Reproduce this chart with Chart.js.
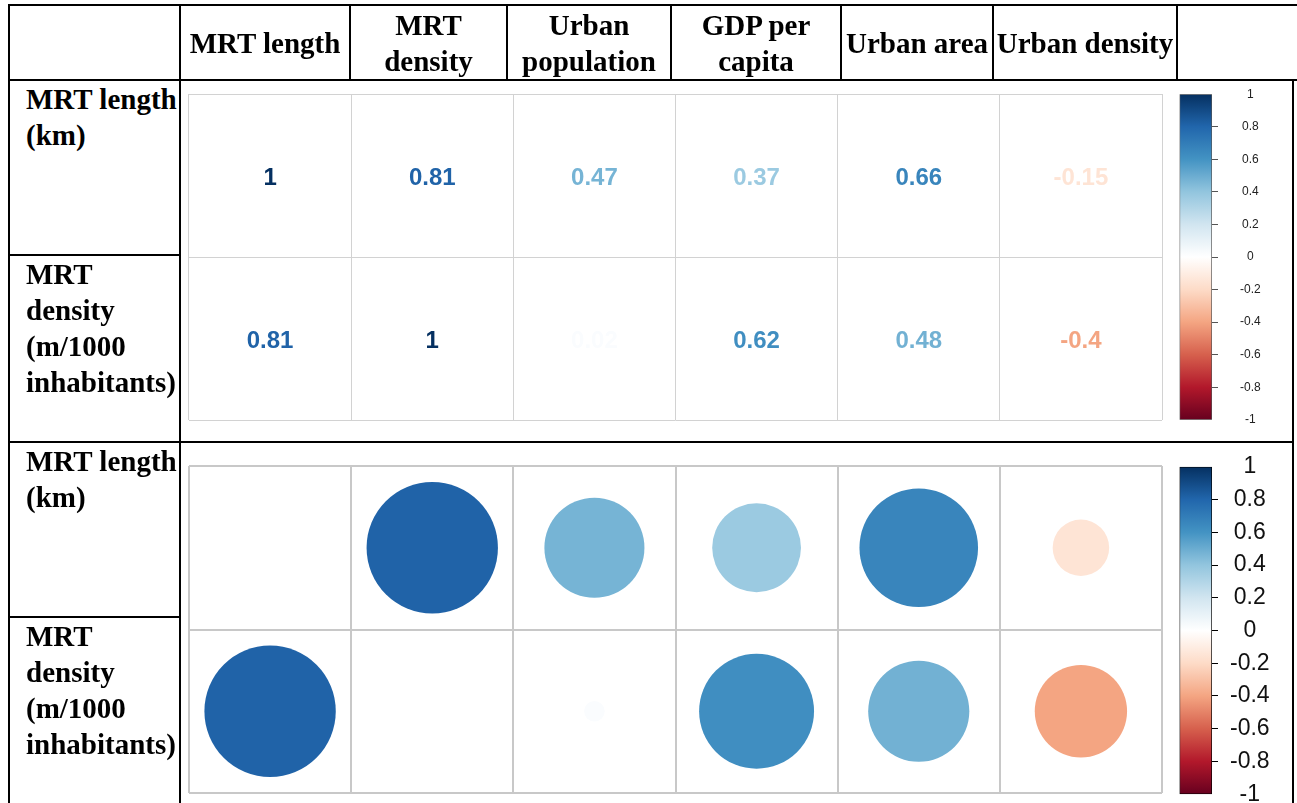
<!DOCTYPE html>
<html>
<head>
<meta charset="utf-8">
<script src="https://cdn.jsdelivr.net/npm/chart.js@4.4.0/dist/chart.umd.min.js"></script>
<style>
  html, body { margin: 0; padding: 0; background: #fff; overflow: hidden; }
  #page { position: relative; width: 1297px; height: 803px; overflow: hidden; }
  .ln { position: absolute; background: #000; }
  .hd {
    position: absolute; top: 6px; height: 74px;
    display: flex; align-items: center; justify-content: center; text-align: center;
    font: bold 29px/36px "Liberation Serif", "Times New Roman", serif;
    white-space: pre; color: #000;
  }
  .rl {
    position: absolute; left: 26px;
    font: bold 29px/36px "Liberation Serif", "Times New Roman", serif;
    white-space: pre; color: #000;
  }
  canvas { position: absolute; }
</style>
</head>
<body>
<div id="page">
  <canvas id="numPanel" width="981" height="334" style="left:185px;top:90px"></canvas>
  <canvas id="numBar" width="117" height="384" style="left:1175px;top:64.8px"></canvas>
  <canvas id="circlePanel" width="981" height="335" style="left:185px;top:462px"></canvas>
  <canvas id="circleBar" width="117" height="379" style="left:1175px;top:441.2px"></canvas>
</div>
<script>
// variables in the columns and rows of the correlation matrix
var colVars = ["MRT length", "MRT density", "Urban population", "GDP per capita", "Urban area", "Urban density"];
var rowVars = ["MRT length (km)", "MRT density (m/1000 inhabitants)"];

// correlation coefficients
var mrtLengthR = [1, 0.81, 0.47, 0.37, 0.66, -0.15];
var mrtDensityR = [0.81, 1, 0.02, 0.62, 0.48, -0.4];

// colour bar ticks
var legendTicks = [-1, -0.8, -0.6, -0.4, -0.2, 0, 0.2, 0.4, 0.6, 0.8, 1];

// how the labels are broken in the table
var headerText = ["MRT length", "MRT\ndensity", "Urban\npopulation", "GDP per\ncapita", "Urban area", "Urban density"];
var rowText = ["MRT length\n(km)", "MRT\ndensity\n(m/1000\ninhabitants)"];

// RdBu palette, from -1 to 1
var rdbu = ["#67001F", "#B2182B", "#D6604D", "#F4A582", "#FDDBC7", "#FFFFFF",
            "#D1E5F0", "#92C5DE", "#4393C3", "#2166AC", "#053061"];

function hexRgb(h) {
  return [parseInt(h.substr(1, 2), 16), parseInt(h.substr(3, 2), 16), parseInt(h.substr(5, 2), 16)];
}

function corrColor(v) {
  var t = (v + 1) / 2 * (rdbu.length - 1);
  var i = Math.min(Math.floor(t), rdbu.length - 2);
  var f = t - i;
  var a = hexRgb(rdbu[i]), b = hexRgb(rdbu[i + 1]);
  var c = a.map(function (x, k) { return Math.round(x + (b[k] - x) * f); });
  return "rgb(" + c.join(",") + ")";
}

// ---- table frame and labels ----
var page = document.getElementById("page");

function line(x, y, w, h) {
  var d = document.createElement("div");
  d.className = "ln";
  d.style.left = x + "px"; d.style.top = y + "px";
  d.style.width = w + "px"; d.style.height = h + "px";
  page.appendChild(d);
}

line(8, 4, 1289, 2);
line(8, 79, 1289, 2);
line(8, 4, 2, 799);
line(179, 4, 2, 799);
[349, 506, 670, 840, 992, 1176].forEach(function (x) { line(x, 4, 2, 77); });
line(1292, 80, 2, 723);
line(8, 254, 172, 2);
line(8, 441, 1286, 2);
line(8, 616, 172, 2);

var headerEdges = [180, 350, 507, 671, 841, 993, 1177];
headerText.forEach(function (t, i) {
  var d = document.createElement("div");
  d.className = "hd";
  d.style.left = headerEdges[i] + "px";
  d.style.width = (headerEdges[i + 1] - headerEdges[i]) + "px";
  d.textContent = t;
  page.appendChild(d);
});

var rowTops = [81, 256, 443, 618];
rowTops.forEach(function (y, i) {
  var d = document.createElement("div");
  d.className = "rl";
  d.style.top = y + "px";
  d.textContent = rowText[i % 2];
  page.appendChild(d);
});

// ---- correlation panels ----
function matrixPoints(skipDiag) {
  var pts = [];
  [mrtLengthR, mrtDensityR].forEach(function (row, r) {
    row.forEach(function (v, c) {
      if (skipDiag && c === r) return;
      pts.push({ x: colVars[c], y: rowVars[r], v: v });
    });
  });
  return pts;
}

var numberText = {
  id: "numberText",
  afterDatasetsDraw: function (chart) {
    var meta = chart.getDatasetMeta(0);
    var pts = chart.data.datasets[0].data;
    var c = chart.ctx;
    c.save();
    c.font = 'bold 24px "Liberation Sans", Arial, sans-serif';
    c.textAlign = "center";
    c.textBaseline = "middle";
    meta.data.forEach(function (el, i) {
      c.fillStyle = corrColor(pts[i].v);
      c.fillText(String(pts[i].v), el.x, el.y + 3);
    });
    c.restore();
  }
};

function makeMatrix(id, pts, circles, gridColor, gridWidth) {
  var axis = function (labels) {
    return {
      type: "category",
      labels: labels,
      offset: true,
      grid: { offset: true, color: gridColor, lineWidth: gridWidth, drawTicks: false },
      ticks: { display: false },
      border: { display: false }
    };
  };
  return new Chart(document.getElementById(id), {
    type: "scatter",
    data: {
      datasets: [{
        data: pts,
        pointStyle: "circle",
        pointBorderWidth: 0,
        pointBackgroundColor: function (ctx) { return ctx.raw ? corrColor(ctx.raw.v) : "#fff"; },
        pointRadius: function (ctx) {
          if (!circles || !ctx.raw) return 0;
          var xs = ctx.chart.scales.x;
          var cell = xs.getPixelForValue(1) - xs.getPixelForValue(0);
          return 0.45 * cell * Math.sqrt(Math.abs(ctx.raw.v));
        }
      }]
    },
    options: {
      responsive: false,
      animation: false,
      events: [],
      layout: { padding: 4 },
      plugins: { legend: { display: false }, tooltip: { enabled: false } },
      scales: { x: axis(colVars), y: axis(rowVars) }
    },
    plugins: circles ? [] : [numberText]
  });
}

function makeColorBar(id, o) {
  return new Chart(document.getElementById(id), {
    type: "bar",
    data: {
      labels: [""],
      datasets: [{
        data: [[-1, 1]],
        barPercentage: 1,
        categoryPercentage: 1,
        borderWidth: 1,
        borderColor: o.edge,
        borderSkipped: false,
        backgroundColor: function (ctx) {
          var ch = ctx.chart, ys = ch.scales.y;
          if (!ys || !ch.chartArea) return "#fff";
          var g = ch.ctx.createLinearGradient(0, ys.getPixelForValue(-1), 0, ys.getPixelForValue(1));
          rdbu.forEach(function (col, i) { g.addColorStop(i / (rdbu.length - 1), col); });
          return g;
        }
      }]
    },
    options: {
      responsive: false,
      animation: false,
      events: [],
      layout: { padding: { left: 4.5, right: 0, top: 0, bottom: 0 } },
      plugins: { legend: { display: false }, tooltip: { enabled: false } },
      scales: {
        x: { display: false },
        y: {
          position: "right",
          min: -1,
          max: 1,
          afterBuildTicks: function (s) { s.ticks = legendTicks.map(function (v) { return { value: v }; }); },
          afterFit: function (s) { s.width = 80; },
          border: { display: false },
          grid: {
            drawOnChartArea: false,
            tickLength: 6,
            color: function (ctx) { return ctx.tick && Math.abs(ctx.tick.value) === 1 ? "rgba(0,0,0,0)" : o.tickColor; }
          },
          ticks: {
            crossAlign: "center",
            padding: o.labelPad,
            color: o.labelColor,
            font: { family: '"Liberation Sans", Arial, sans-serif', size: o.fontSize },
            callback: function (v) { return String(v); }
          }
        }
      }
    }
  });
}

makeMatrix("numPanel", matrixPoints(false), false, "#d2d2d2", 1);
makeMatrix("circlePanel", matrixPoints(true), true, "#c8c8c8", 2);

makeColorBar("numBar", { edge: "#555", tickColor: "#555", labelColor: "#222", fontSize: 12, labelPad: 22 });
makeColorBar("circleBar", { edge: "#000", tickColor: "#000", labelColor: "#111", fontSize: 23, labelPad: 12 });
</script>
</body>
</html>
